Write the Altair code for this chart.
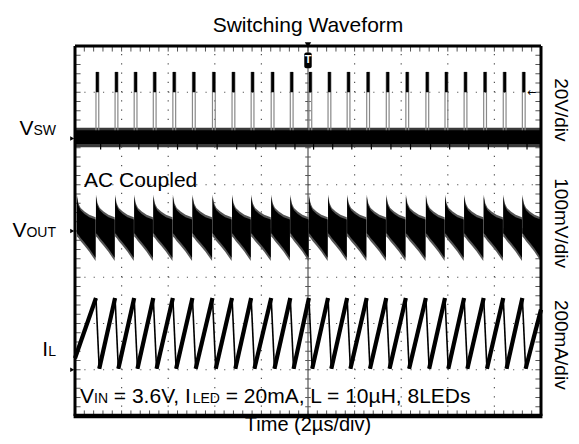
import altair as alt
import pandas as pd
import numpy as np

# ---- data (screen divisions: x 0..10, y 0..8 from the bottom) ----
spike_x = [0.45, 0.86, 1.27, 1.68, 2.10, 2.52, 2.95, 3.37, 3.78, 4.21, 4.62,
           5.02, 5.43, 5.84, 6.26, 6.68, 7.10, 7.53, 7.94, 8.35, 8.77, 9.19, 9.60]
vsw_low = 5.88
vsw_high = 6.18
vsw_peak = 7.44
vsw_blob = 7.00

# Vout (AC coupled): one period (phase, upper, lower)
vout_phase = [0.0, 0.08, 0.2, 0.4, 0.65, 0.98]
vout_upper = [4.74, 4.55, 4.45, 4.37, 4.30, 4.25]
vout_lower = [3.95, 3.92, 3.85, 3.75, 3.62, 3.42]

# Inductor current
il_peak = 2.55
il_valley = 1.02
il_start = 1.25
il_end = 2.3
il_fall = 0.07

# ---- layout ----
W, H = 466, 370
PX = W / 10.0  # pixels per x division
FONT = "Liberation Sans"

ARIAL = {' ': 278, '=': 584, '3': 556, '.': 278, '6': 556, 'V': 667, ',': 278, 'I': 278,
         'N': 722, 'L': 556, 'E': 667, 'D': 722, '2': 556, '0': 556, 'm': 833, 'A': 667,
         '1': 556, 'µ': 576, 'H': 722, '8': 556, 's': 500, 'S': 667, 'W': 944, 'O': 778,
         'U': 722, 'T': 611}

def tw(s, size):
    return sum(ARIAL.get(c, 556) for c in s) * size / 1000.0 / PX

# ---- tables ----
spikes = pd.DataFrame({"x": spike_x, "x2": [s + 0.06 for s in spike_x],
                       "y": vsw_high, "y2": vsw_peak, "b": vsw_blob,
                       "xt": [s + 0.1 for s in spike_x], "lo": vsw_low, "lo2": vsw_low - 0.12})

vout_rows = []
starts = [0.0] + spike_x
ends = spike_x + [10.0]
first_period = spike_x[1] - spike_x[0]
for k, (a, b) in enumerate(zip(starts, ends)):
    period = b - a if k > 0 else first_period
    for ph, up, lo in zip(vout_phase, vout_upper, vout_lower):
        if k == 0:
            xx = b - period + ph * period
            if xx < 0:
                continue
        else:
            xx = a + ph * period
            if xx > b:
                continue
        vout_rows.append({"x": xx, "up": up, "lo": lo, "p": k,
                          "upf": up + 0.05, "lof": lo - 0.07})
vout = pd.DataFrame(vout_rows)

il_rise = [{"x": 0.0, "y": il_start, "x2": spike_x[0], "y2": il_peak}]
il_falls = []
for k, s in enumerate(spike_x):
    il_falls.append({"x": s, "y": il_peak, "x2": s + il_fall, "y2": il_valley})
    nxt = spike_x[k + 1] if k + 1 < len(spike_x) else 10.0
    yy = il_peak if k + 1 < len(spike_x) else il_end
    il_rise.append({"x": s + il_fall, "y": il_valley, "x2": nxt, "y2": yy})
il_rise = pd.DataFrame(il_rise)
il_falls = pd.DataFrame(il_falls)

xs = alt.Scale(domain=[0, 10], nice=False, zero=False)
ys = alt.Scale(domain=[0, 8], nice=False, zero=False)

def X(f):
    return alt.X(f, scale=xs, axis=None)

def Y(f):
    return alt.Y(f, scale=ys, axis=None)

def seg(df, **mk):
    return alt.Chart(df).mark_rule(**mk).encode(x=X("x:Q"), x2="x2:Q", y=Y("y:Q"), y2="y2:Q")

# dotted division grid
gv_rows = [{"x": v, "x2": v, "y": 0, "y2": 8} for v in [1, 2, 3, 4, 6, 7, 8, 9]]
gh_rows = [{"x": 0, "x2": 10, "y": v, "y2": v} for v in [1, 2, 3, 4, 5, 6, 7]]
grid_v = seg(pd.DataFrame(gv_rows), color="#555", strokeWidth=1.2, strokeDash=[1.2, 8.05])
grid_h = seg(pd.DataFrame(gh_rows), color="#555", strokeWidth=1.2, strokeDash=[1.2, 8.12])
centre_v = seg(pd.DataFrame([{"x": 5, "x2": 5, "y": 0, "y2": 8}]), color="#333", strokeWidth=1)

# minor ticks along borders and centre lines
tx = np.round(np.arange(0.2, 10, 0.2), 2)
ty = np.round(np.arange(0.2, 8, 0.2), 2)
tick_rows = []
for v in tx:
    tick_rows.append({"x": v, "x2": v, "y": 8, "y2": 7.88})
    tick_rows.append({"x": v, "x2": v, "y": 0, "y2": 0.12})
    tick_rows.append({"x": v, "x2": v, "y": 3.94, "y2": 4.06})
for v in ty:
    tick_rows.append({"x": 0, "x2": 0.12, "y": v, "y2": v})
    tick_rows.append({"x": 10, "x2": 9.88, "y": v, "y2": v})
    tick_rows.append({"x": 4.94, "x2": 5.06, "y": v, "y2": v})
ticks = seg(pd.DataFrame(tick_rows), color="#555", strokeWidth=1)

# Vsw
band_df = pd.DataFrame({"a": [0.0], "b": [10.0], "lo": [vsw_low], "hi": [vsw_high],
                        "lo_f": [vsw_low - 0.07], "hi_f": [vsw_high + 0.05]})
vsw_fuzz = alt.Chart(band_df).mark_rect(color="#3a3a3a").encode(
    x=X("a:Q"), x2="b:Q", y=Y("lo_f:Q"), y2="hi_f:Q")
vsw_band = alt.Chart(band_df).mark_rect(color="black").encode(
    x=X("a:Q"), x2="b:Q", y=Y("lo:Q"), y2="hi:Q")
sp_tail = alt.Chart(spikes).mark_rule(color="black", strokeWidth=1.2).encode(
    x=X("xt:Q"), y=Y("lo:Q"), y2="lo2:Q")
sp_edges = alt.Chart(spikes).mark_rule(color="#888", strokeWidth=1.2).encode(
    x=X("x:Q"), y=Y("y:Q"), y2="y2:Q")
sp_edges2 = alt.Chart(spikes).mark_rule(color="#888", strokeWidth=1.2).encode(
    x=X("x2:Q"), y=Y("y:Q"), y2="y2:Q")
sp_blob = alt.Chart(spikes).mark_rect(color="black").encode(
    x=X("x:Q"), x2="x2:Q", y=Y("b:Q"), y2="y2:Q")

# Vout
vout_fuzz = alt.Chart(vout).mark_area(color="#555", interpolate="linear").encode(
    x=X("x:Q"), y=Y("upf:Q"), y2="lof:Q", detail="p:N")
vout_area = alt.Chart(vout).mark_area(color="black", interpolate="linear").encode(
    x=X("x:Q"), y=Y("up:Q"), y2="lo:Q", detail="p:N")

# IL
il_r = seg(il_rise, color="black", strokeWidth=4.2)
il_f = seg(il_falls, color="black", strokeWidth=1.6)

# frame
frame = seg(pd.DataFrame([
    {"x": 0, "x2": 10, "y": 8, "y2": 8},
    {"x": 0, "x2": 0, "y": 0, "y2": 8}, {"x": 10, "x2": 10, "y": 0, "y2": 8},
]), color="black", strokeWidth=3)
frame_b = seg(pd.DataFrame([{"x": -0.03, "x2": 10.03, "y": 0, "y2": 0}]), color="black", strokeWidth=4.5)

# channel ground markers (left) and trigger markers
gnd = alt.Chart(pd.DataFrame({"x": [-0.06, -0.06, -0.06], "y": [6.0, 4.0, 1.0]})).mark_point(
    shape="triangle-right", filled=True, color="black", size=22, opacity=1).encode(x=X("x:Q"), y=Y("y:Q"))
trig_tri = alt.Chart(pd.DataFrame({"x": [5.0], "y": [8.02]})).mark_point(
    shape="triangle-down", filled=True, color="black", size=40, opacity=1).encode(x=X("x:Q"), y=Y("y:Q"))
trig_box = alt.Chart(pd.DataFrame({"a": [4.92], "b": [5.08], "c": [7.52], "d": [7.86]})).mark_rect(
    color="black", cornerRadius=2).encode(x=X("a:Q"), x2="b:Q", y=Y("c:Q"), y2="d:Q")
trig_t = alt.Chart(pd.DataFrame({"x": [5.0], "y": [7.69], "t": ["T"]})).mark_text(
    font=FONT, fontSize=11, fontWeight="bold", color="white", baseline="middle", align="center").encode(
    x=X("x:Q"), y=Y("y:Q"), text="t:N")
lvl = alt.Chart(pd.DataFrame({"x": [9.9], "y": [6.98], "t": ["←"]})).mark_text(
    font="DejaVu Sans", fontSize=11, color="black", baseline="middle", align="right").encode(
    x=X("x:Q"), y=Y("y:Q"), text="t:N")


def txt(s, x, y, size=21, align="left", angle=0, baseline="alphabetic"):
    return alt.Chart(pd.DataFrame({"t": [s], "x": [x], "y": [y]})).mark_text(
        font=FONT, fontSize=size, align=align, baseline=baseline, angle=angle, color="black"
    ).encode(x=X("x:Q"), y=Y("y:Q"), text="t:N")

BIG, SMALL = 21, 14
lab_end = (56 - 75) / PX

def sub_label(main, sub, y):
    return [txt(main, lab_end - tw(sub, SMALL), y, BIG, align="right"),
            txt(sub, lab_end, y, SMALL, align="right")]

labels = []
labels += sub_label("V", "SW", 6.08)
labels += sub_label("V", "OUT", 3.87)
labels += sub_label("I", "L", 1.30)

# the conditions line (leading spaces are advanced by hand, SVG drops them)
pieces = [("V", BIG), ("IN", SMALL), (" = 3.6V, I", BIG), ("LED", SMALL),
          (" = 20mA, L = 10µH, 8LEDs", BIG)]
cx = (80 - 75) / PX
for s, sz in pieces:
    lead = len(s) - len(s.lstrip(" "))
    cx += tw(" " * lead, sz)
    core = s.lstrip(" ")
    labels.append(txt(core, cx, 0.28, sz))
    cx += tw(core, sz)

rx = (561 - 75) / PX
labels += [
    txt("20V/div", rx, 6.62, 19, align="center", angle=90, baseline="middle"),
    txt("100mV/div", rx, 4.17, 19, align="center", angle=90, baseline="middle"),
    txt("200mA/div", rx, 1.54, 19, align="center", angle=90, baseline="middle"),
    txt("AC Coupled", (84 - 75) / PX, 4.95, BIG),
    txt("Time (2µs/div)", 5.0, -0.32, 20, align="center"),
    txt("Switching Waveform", 5.0, 8.31, BIG, align="center"),
]

chart = alt.layer(
    grid_v, grid_h, centre_v, ticks,
    vsw_fuzz, vsw_band, sp_tail, sp_edges, sp_edges2, sp_blob,
    vout_fuzz, vout_area, il_r, il_f,
    frame, frame_b, gnd, trig_tri, trig_box, trig_t, lvl,
    *labels
).properties(
    width=W, height=H,
    autosize=alt.AutoSizeParams(type="none"),
    padding={"left": 67, "top": 38, "right": 30, "bottom": 20},
).configure_view(strokeWidth=0).configure(background="white")

chart.save("out.html", embed_options={"renderer": "svg", "actions": False})
